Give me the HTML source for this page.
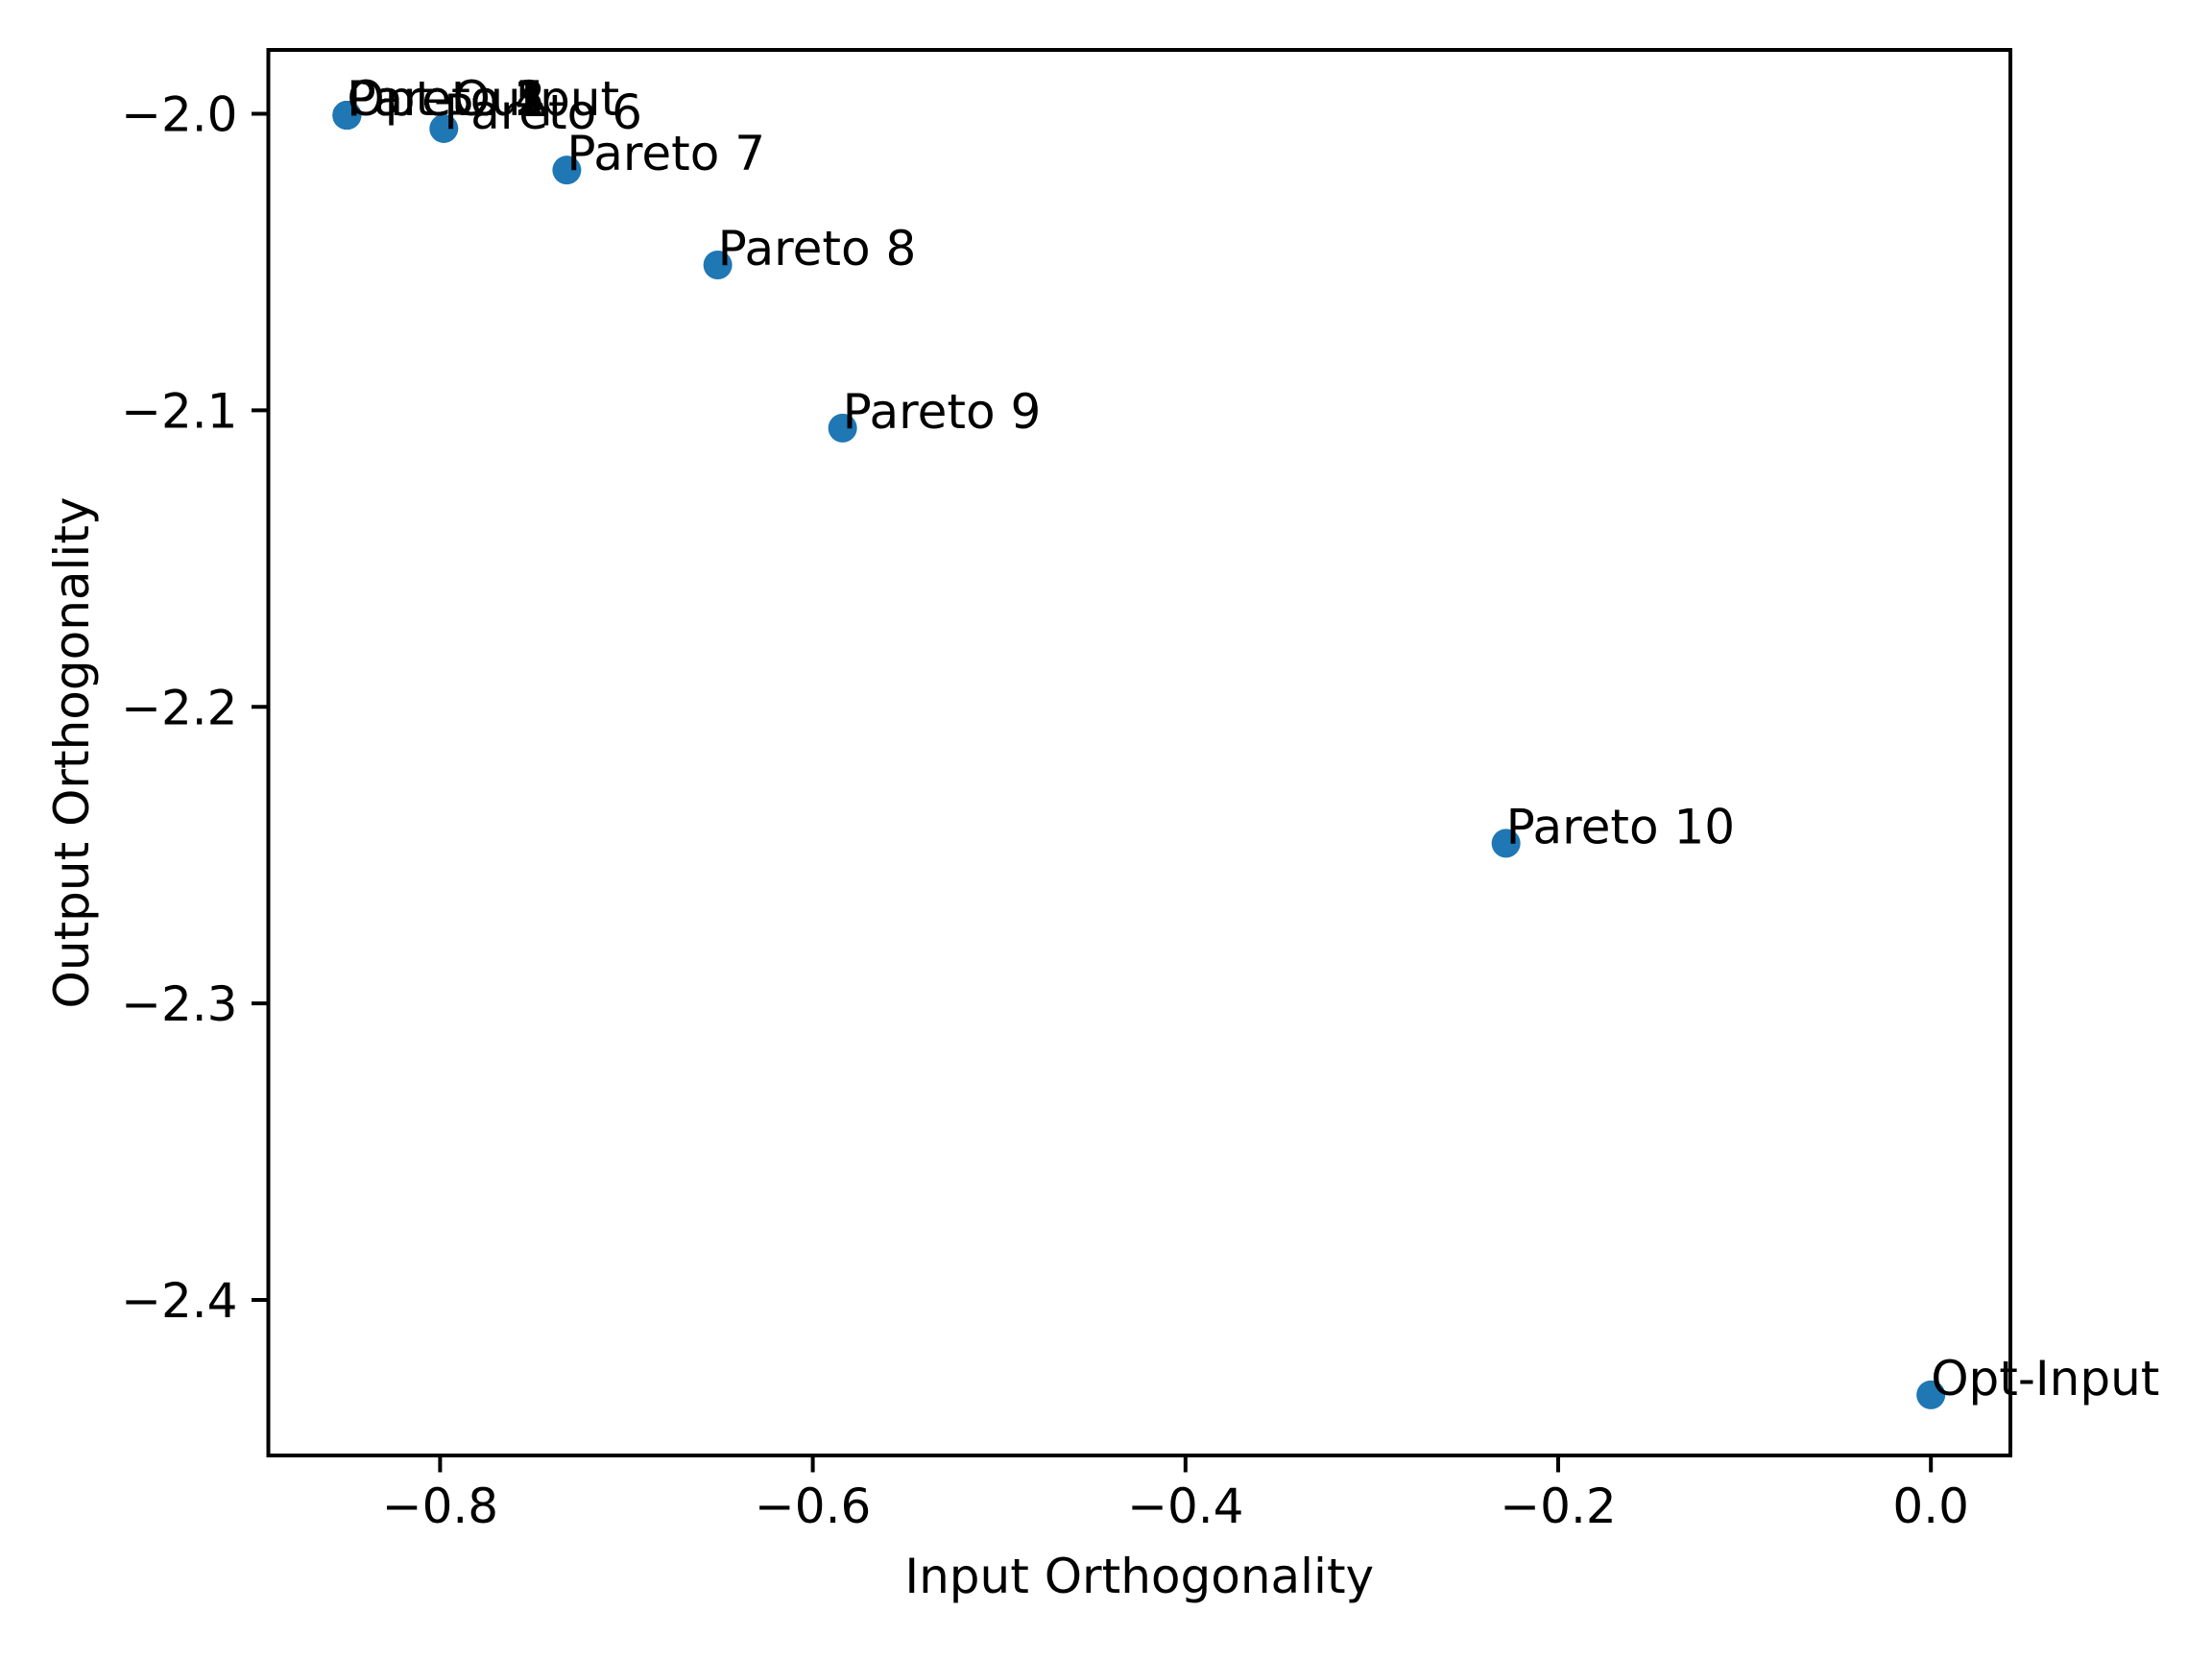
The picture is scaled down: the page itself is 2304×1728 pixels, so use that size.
<!DOCTYPE html>
<html><head><meta charset="utf-8"><style>body{margin:0;background:#fff}svg{display:block}text{font-family:"DejaVu Sans","Liberation Sans",sans-serif}</style></head>
<body>
<svg id="chart" width="2304" height="1728" xmlns="http://www.w3.org/2000/svg">
<rect width="2304" height="1728" fill="#fff"/>
<g id="marks"></g>
<g id="axes"></g>
</svg>
<script>
const labels=["Pareto 1","Pareto 2","Pareto 3","Pareto 4","Pareto 5","Opt-Output","Pareto 6","Pareto 7","Pareto 8","Pareto 9","Pareto 10","Opt-Input"];
const xs=[-0.850,-0.850,-0.850,-0.850,-0.850,-0.850,-0.798,-0.732,-0.651,-0.584,-0.228,0.0];
const ys=[-2.0005,-2.0005,-2.0005,-2.0005,-2.0005,-2.0005,-2.005,-2.019,-2.051,-2.106,-2.246,-2.432];
const xTicks=[-0.8,-0.6,-0.4,-0.2,0.0];
const xTickLabels=["\u22120.8","\u22120.6","\u22120.4","\u22120.2","0.0"];
const yTicks=[-2.0,-2.1,-2.2,-2.3,-2.4];
const yTickLabels=["\u22122.0","\u22122.1","\u22122.2","\u22122.3","\u22122.4"];
const L=279.5,R=2094,T=52,B=1516;
function sx(v){return 2011.2+v*1941;}
function sy(v){return 118.5+(-2.0-v)*3088.75;}
const NS="http://www.w3.org/2000/svg";
const marks=document.getElementById('marks');
const axes=document.getElementById('axes');
function mk(tag,attrs,parent){const e=document.createElementNS(NS,tag);for(const k in attrs)e.setAttribute(k,attrs[k]);parent.appendChild(e);return e;}
for(let i=0;i<xs.length;i++){
  const c=mk('circle',{cx:sx(xs[i]),cy:sy(ys[i]),r:15,fill:'#1f77b4'},marks);
  
  
}
for(let i=0;i<xs.length;i++){
  const t=mk('text',{x:sx(xs[i]),y:sy(ys[i]),'font-size':50,fill:'#000'},marks);
  t.textContent=labels[i];
  
  
}
const frame=mk('rect',{x:L,y:T,width:R-L,height:B-T,fill:'none',stroke:'#000','stroke-width':4},axes);


for(let i=0;i<xTicks.length;i++){
  const x=sx(xTicks[i]);
  const l=mk('line',{x1:x,x2:x,y1:B,y2:B+17.5,stroke:'#000','stroke-width':4},axes);
  
  
  const t=mk('text',{x:x,y:B+70,'font-size':50,'text-anchor':'middle'},axes);
  t.textContent=xTickLabels[i];
  
  
}
for(let i=0;i<yTicks.length;i++){
  const y=sy(yTicks[i]);
  const l=mk('line',{x1:L-17.5,x2:L,y1:y,y2:y,stroke:'#000','stroke-width':4},axes);
  
  
  const t=mk('text',{x:L-32,y:y+18,'font-size':50,'text-anchor':'end'},axes);
  t.textContent=yTickLabels[i];
  
  
}
const xl=mk('text',{x:(L+R)/2,y:1659,'font-size':50,'text-anchor':'middle'},axes);
xl.textContent='Input Orthogonality';


const yl=mk('text',{x:0,y:0,'font-size':50,'text-anchor':'middle',transform:'translate(92,'+((T+B)/2)+') rotate(-90)'},axes);
yl.textContent='Output Orthogonality';


</script>
</body></html>
